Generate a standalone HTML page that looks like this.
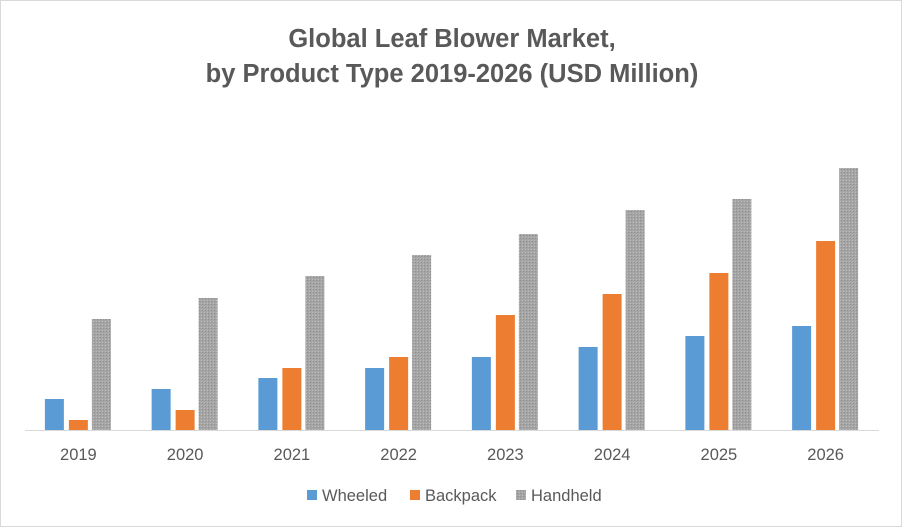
<!DOCTYPE html>
<html><head><meta charset="utf-8"><style>
body{margin:0;background:#fff;}
#wrap{position:relative;width:900px;height:525px;border:1px solid #d9d9d9;background:#fff;font-family:"Liberation Sans",sans-serif;}
</style></head><body>
<div id="wrap">
<svg id="chart" width="900" height="525">
<defs><pattern id="hatch" width="3" height="3" patternUnits="userSpaceOnUse"><rect width="3" height="3" fill="#a5a5a5"/><rect width="1" height="1" fill="#8f8f8f"/><rect x="2" y="2" width="1" height="1" fill="#bdbdbd"/></pattern></defs>
<text x="451" y="46" text-anchor="middle" font-size="25.5" font-weight="bold" fill="#595959">Global Leaf Blower Market,</text>
<text x="451" y="81" text-anchor="middle" font-size="25.5" font-weight="bold" fill="#595959">by Product Type 2019-2026 (USD Million)</text>
<g id="bars"></g>
<line x1="24" y1="429.5" x2="878" y2="429.5" stroke="#d9d9d9"/>
<g id="ticks"></g>
<g>
<rect x="306" y="489" width="10" height="10" fill="#5b9bd5"/>
<text x="321" y="500" font-size="16.5" fill="#595959">Wheeled</text>
<rect x="409" y="489" width="10" height="10" fill="#ed7d31"/>
<text x="424" y="500" font-size="16.5" fill="#595959">Backpack</text>
<rect x="515" y="489" width="10" height="10" fill="url(#hatch)"/>
<text x="530" y="500" font-size="16.5" fill="#595959">Handheld</text>
</g>
</svg></div>
<script>
const categories=["2019","2020","2021","2022","2023","2024","2025","2026"];
const wheeled=[32,42,53,63,74,84,95,105];
const backpack=[11,21,63,74,116,137,158,190];
const handheld=[112,133,155,176,197,221,232,263];
const seriesNames=["wheeled","backpack","handheld"];
const NS="http://www.w3.org/2000/svg";
const x0=24,x1=878,base=430;
const step=(x1-x0)/categories.length;
function xCenter(i){return x0+step*(i+0.5);}
function yScale(v){return base-v;}
const offs=[-24,0,23],fills=["#5b9bd5","#ed7d31","url(#hatch)"];
const data=[wheeled,backpack,handheld];
const gb=document.getElementById('bars'),gt=document.getElementById('ticks');
categories.forEach((c,i)=>{
  data.forEach((s,k)=>{
    const r=document.createElementNS(NS,'rect');
    r.setAttribute('x',xCenter(i)+offs[k]-9.5);
    r.setAttribute('y',yScale(s[i]));
    r.setAttribute('width',19);
    r.setAttribute('height',base-yScale(s[i]));
    r.setAttribute('fill',fills[k]);
    
    
    gb.appendChild(r);
  });
  const t=document.createElementNS(NS,'text');
  t.setAttribute('x',xCenter(i));t.setAttribute('y',459);
  t.setAttribute('text-anchor','middle');t.setAttribute('font-size','16.5');t.setAttribute('fill','#595959');
  t.textContent=c;
  
  
  gt.appendChild(t);
});
</script>
</body></html>
